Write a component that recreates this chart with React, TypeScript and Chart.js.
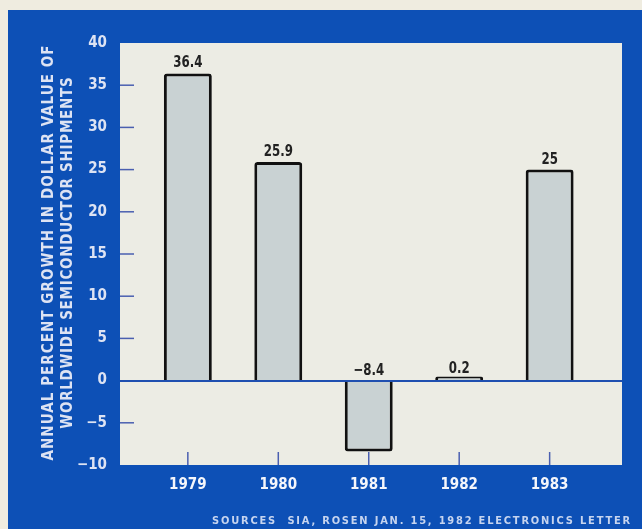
import React, { useEffect, useRef } from "react";
import { Chart, registerables } from "chart.js";

Chart.register(...registerables);

const years: number[] = [1979, 1980, 1981, 1982, 1983];
const growth: number[] = [36.4, 25.9, -8.4, 0.2, 25];
const valueLabels: string[] = ["36.4", "25.9", "\u22128.4", "0.2", "25"];
const yTickValues: number[] = [-10, -5, 0, 5, 10, 15, 20, 25, 30, 35, 40];
const yTitleLines: string[] = [
  "ANNUAL PERCENT GROWTH IN DOLLAR VALUE OF",
  "WORLDWIDE SEMICONDUCTOR SHIPMENTS",
];
const footerText = "SOURCES  SIA, ROSEN JAN. 15, 1982 ELECTRONICS LETTER";

const FONT = '"Liberation Sans Narrow", "DejaVu Sans Condensed", Arial, sans-serif';
const BLUE = "#0d50b6";
const PAGE_BG = "#efece0";
const PLOT_BG = "#ecece4";
const BAR_FILL = "#c9d2d3";
const TICK_MARK = "#4a5fb0";
const LIGHT_TEXT = "#dde3f3";

const decorPlugin = {
  id: "decor",
  beforeDraw(chart: any) {
    const { ctx, chartArea } = chart;
    ctx.save();
    ctx.fillStyle = PAGE_BG;
    ctx.fillRect(0, 0, chart.width, chart.height);
    ctx.fillStyle = BLUE;
    ctx.fillRect(8, 10, chart.width - 8, chart.height - 10);
    ctx.fillStyle = PLOT_BG;
    ctx.fillRect(chartArea.left, chartArea.top, chartArea.right - chartArea.left, chartArea.bottom - chartArea.top);
    ctx.restore();
  },
  afterDatasetsDraw(chart: any) {
    const { ctx, chartArea, scales } = chart;
    const y = scales.y;
    const x = scales.x;
    ctx.save();
    // zero line
    const y0 = y.getPixelForValue(0);
    ctx.strokeStyle = "#1f4fb0";
    ctx.lineWidth = 2;
    ctx.beginPath();
    ctx.moveTo(chartArea.left, y0 + 0.5);
    ctx.lineTo(chartArea.right, y0 + 0.5);
    ctx.stroke();
    // inward y ticks
    ctx.strokeStyle = TICK_MARK;
    ctx.lineWidth = 1.5;
    yTickValues.forEach((v) => {
      if (v === 0 || v === 40 || v === -10) return;
      const py = y.getPixelForValue(v);
      ctx.beginPath();
      ctx.moveTo(chartArea.left, py);
      ctx.lineTo(chartArea.left + 14, py);
      ctx.stroke();
    });
    // inward x ticks
    years.forEach((yr) => {
      const px = x.getPixelForValue(yr);
      ctx.beginPath();
      ctx.moveTo(px, chartArea.bottom);
      ctx.lineTo(px, chartArea.bottom - 13);
      ctx.stroke();
    });
    // value labels
    ctx.fillStyle = "#222222";
    ctx.font = `bold 16px ${FONT}`;
    ctx.textAlign = "center";
    ctx.textBaseline = "alphabetic";
    growth.forEach((v, i) => {
      const px = x.getPixelForValue(years[i]);
      const py = Math.min(y.getPixelForValue(v), y0) - 6;
      ctx.save();
      ctx.translate(px, py);
      ctx.scale(0.82, 1);
      ctx.fillText(valueLabels[i], 0, 0);
      ctx.restore();
    });
    ctx.restore();
  },
  afterDraw(chart: any) {
    const { ctx } = chart;
    ctx.save();
    // y-axis title
    ctx.fillStyle = LIGHT_TEXT;
    ctx.font = `bold 15px ${FONT}`;
    ctx.textAlign = "center";
    ctx.textBaseline = "middle";
    const centers = [49, 68];
    const targets = [416, 352];
    yTitleLines.forEach((line, i) => {
      ctx.save();
      ctx.translate(centers[i], 253);
      ctx.rotate(-Math.PI / 2);
      (ctx as any).letterSpacing = "0px";
      const w = ctx.measureText(line).width;
      const ls = Math.max(0, (targets[i] - w) / line.length);
      (ctx as any).letterSpacing = `${ls}px`;
      ctx.fillText(line, ls / 2, 0);
      ctx.restore();
    });
    // footer
    ctx.fillStyle = "#c6d4ef";
    ctx.font = `bold 11px ${FONT}`;
    ctx.textAlign = "left";
    ctx.textBaseline = "middle";
    (ctx as any).letterSpacing = "0px";
    const fw = ctx.measureText(footerText).width;
    const fls = Math.max(0, (420 - fw) / footerText.length);
    (ctx as any).letterSpacing = `${fls}px`;
    ctx.fillText(footerText, 212, 521);
    ctx.restore();
  },
};

export default function App() {
  const ref = useRef<HTMLCanvasElement | null>(null);
  useEffect(() => {
    if (!ref.current) return;
    const chart = new Chart(ref.current, {
      type: "bar",
      data: {
        datasets: [
          {
            data: years.map((yr, i) => ({ x: yr, y: growth[i] })),
            backgroundColor: BAR_FILL,
            borderColor: "#111111",
            borderWidth: 3,
            borderRadius: 3,
            borderSkipped: "start",
            minBarLength: 4,
            categoryPercentage: 1,
            barPercentage: 0.53,
          } as any,
        ],
      },
      options: {
        responsive: false,
        animation: false,
        layout: { padding: { left: 0, top: 43, right: 20, bottom: 0 } },
        plugins: { legend: { display: false }, tooltip: { enabled: false } },
        scales: {
          x: {
            type: "linear",
            offset: false,
            min: 1978.25,
            max: 1983.8,
            grid: { display: false, offset: false, drawTicks: false },
            border: { display: false },
            afterBuildTicks: (s: any) => {
              s.ticks = years.map((v) => ({ value: v }));
            },
            afterFit: (s: any) => {
              s.height = 64;
            },
            ticks: {
              padding: 11,
              color: "#f4f6fb",
              font: { family: FONT, size: 15, weight: "bold" },
              callback: (v: any) => String(v),
            },
          },
          y: {
            min: -10,
            max: 40,
            grid: { display: false, drawTicks: false },
            border: { display: false },
            afterBuildTicks: (s: any) => {
              s.ticks = yTickValues.map((v) => ({ value: v }));
            },
            afterFit: (s: any) => {
              s.width = 120;
            },
            ticks: {
              padding: 13,
              color: LIGHT_TEXT,
              font: { family: FONT, size: 15, weight: "bold" },
              callback: (v: any) => (Number(v) < 0 ? "\u2212" + Math.abs(Number(v)) : String(v)),
            },
          },
        },
      } as any,
      plugins: [decorPlugin],
    });
    return () => chart.destroy();
  }, []);
  return (
    <div style={{ position: "absolute", left: 0, top: 0, width: 642, height: 529 }}>
      <canvas ref={ref} width={642} height={529} style={{ display: "block" }} />
    </div>
  );
}
